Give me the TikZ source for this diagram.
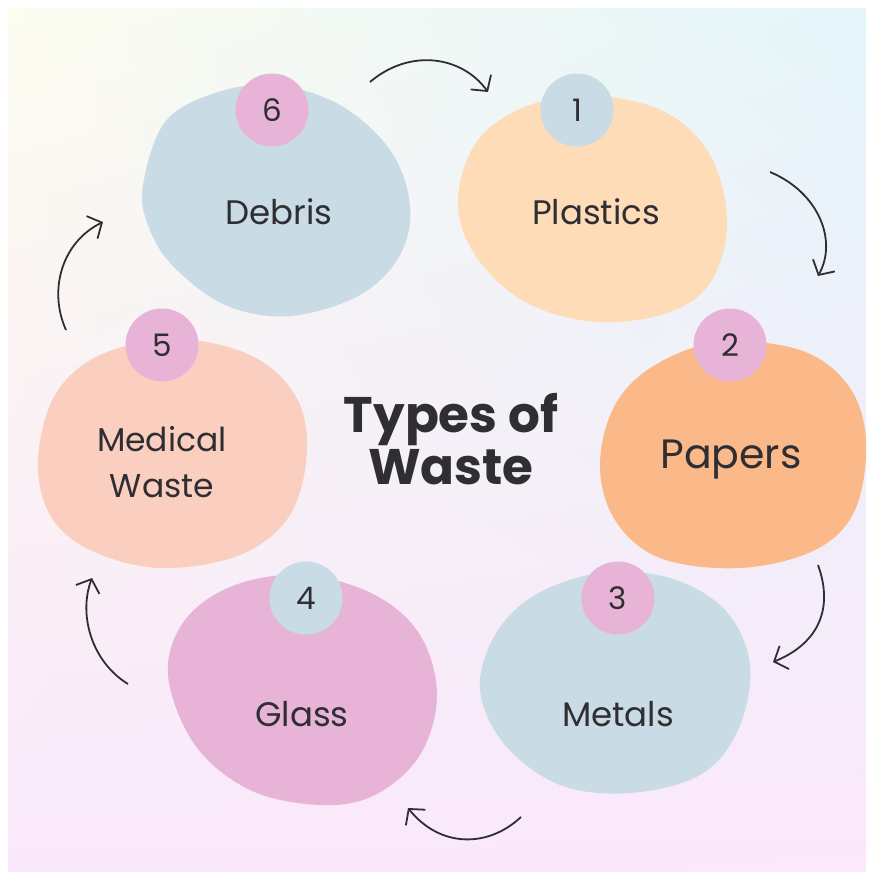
\documentclass[tikz,border=0pt]{standalone}
\usepackage{fontspec}
\setmainfont{Poppins}
\usetikzlibrary{arrows.meta,shadings}
\definecolor{bgTL}{HTML}{FCFCF0}
\definecolor{bgTR}{HTML}{E4F5FA}
\definecolor{bgBL}{HTML}{F9E8FA}
\definecolor{bgBR}{HTML}{FBE8FA}
\definecolor{blueblob}{HTML}{C9DCE6}
\definecolor{peach}{HTML}{FDDCB7}
\definecolor{orange}{HTML}{FBB888}
\definecolor{salmon}{HTML}{FBCFC0}
\definecolor{pinkblob}{HTML}{E7B4D8}
\definecolor{ink}{HTML}{2E2E33}
\tikzset{
  num/.style={circle, minimum size=73pt, inner sep=0pt, text=ink, font=\fontsize{31}{34}\selectfont},
  lbl/.style={text=ink, align=center, font=\fontsize{34}{46}\selectfont},
  flow/.style={draw=ink, line width=1.8pt, -{Straight Barb[length=11pt,width=25pt,line width=1.8pt]}},
}
\begin{document}
\begin{tikzpicture}[x=1pt,y=-1pt]
\useasboundingbox (0,0) rectangle (874,879);
\fill[white] (0,0) rectangle (874,879);
\shade[upper left=bgTL, upper right=bgTR, lower left=bgBL, lower right=bgBR] (8,8) rectangle (866,871);

% blobs
\fill[blueblob] plot[smooth cycle, tension=0.6] coordinates {(143,185) (165,122) (215,93) (275,85) (340,105) (390,150) (410,205) (400,255) (360,295) (290,316) (225,305) (172,265) (148,225)};
\fill[peach] plot[smooth cycle, tension=0.6] coordinates {(458,200) (478,140) (530,105) (597,96) (665,112) (710,155) (727,220) (712,280) (670,312) (597,322) (525,302) (475,255)};
\fill[orange] plot[smooth cycle, tension=0.6] coordinates {(600,465) (615,405) (655,365) (720,342) (800,350) (848,385) (866,440) (855,510) (815,550) (740,568) (660,558) (615,520)};
\fill[salmon] plot[smooth cycle, tension=0.6] coordinates {(38,460) (55,395) (100,355) (175,339) (250,355) (295,395) (307,450) (290,515) (240,555) (160,568) (90,550) (50,515)};
\fill[pinkblob] plot[smooth cycle, tension=0.6] coordinates {(168,675) (185,620) (235,585) (305,575) (375,595) (420,635) (437,695) (420,755) (375,795) (320,805) (250,790) (195,745)};
\fill[blueblob] plot[smooth cycle, tension=0.6] coordinates {(480,690) (495,635) (535,595) (600,573) (670,578) (725,610) (750,665) (738,730) (700,775) (630,793) (560,785) (505,745)};

% labels
\node[lbl] (debris) at (279,212) {Debris};
\node[lbl] (plastics) at (596,212) {Plastics};
\node[lbl, font=\fontsize{41}{46}\selectfont] (papers) at (731,460) {Papers};
\node[lbl] (metals) at (618,714) {Metals};
\node[lbl] (glass) at (302,714) {Glass};
\node[lbl, font=\fontsize{33}{46}\selectfont] (medical) at (162,462) {Medical\\Waste};
\node[text=ink, align=center, font=\bfseries\fontsize{50}{52}\selectfont] (title) at (451,439) {Types of\\Waste};

% number circles
\node[num, fill=pinkblob] (n6) at (272,110) {6};
\node[num, fill=blueblob] (n1) at (577,110) {1};
\node[num, fill=pinkblob] (n2) at (730,345) {2};
\node[num, fill=pinkblob] (n3) at (618,598) {3};
\node[num, fill=blueblob] (n4) at (306,598) {4};
\node[num, fill=pinkblob] (n5) at (162,345) {5};

% arrow endpoints
\coordinate (a1s) at (370,82);  \coordinate (a1e) at (488,92);
\coordinate (a2s) at (770,172); \coordinate (a2e) at (818,276);
\coordinate (a3s) at (818,565); \coordinate (a3e) at (773,662);
\coordinate (a4s) at (521,817); \coordinate (a4e) at (408,808);
\coordinate (a5s) at (128,684); \coordinate (a5e) at (92,578);
\coordinate (a6s) at (66,330);  \coordinate (a6e) at (103,222);

\draw[flow] (a1s) .. controls (410,48) and (462,56) .. (a1e);
\draw[flow] (a2s) .. controls (818,192) and (838,240) .. (a2e);
\draw[flow] (a3s) .. controls (835,612) and (815,645) .. (a3e);
\draw[flow] (a4s) .. controls (488,848) and (440,848) .. (a4e);
\draw[flow] (a5s) .. controls (92,662) and (78,615) .. (a5e);
\draw[flow] (a6s) .. controls (48,290) and (62,242) .. (a6e);
\end{tikzpicture}
\end{document}
